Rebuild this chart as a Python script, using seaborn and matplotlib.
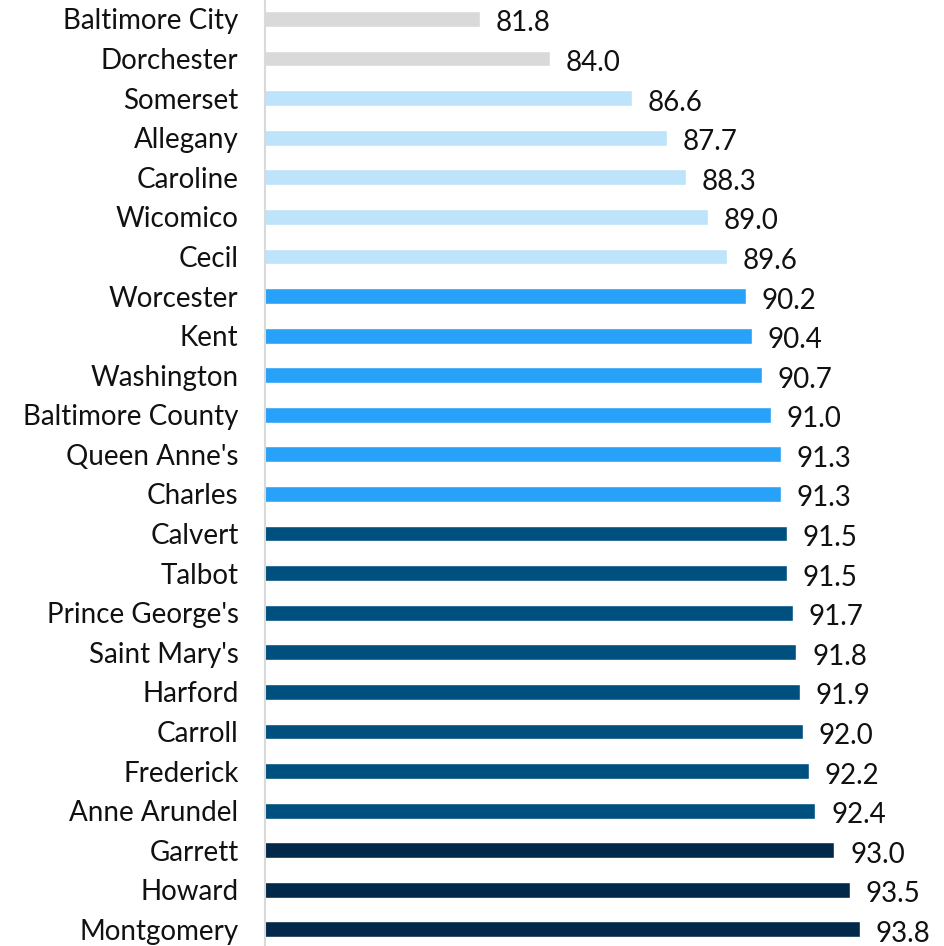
import pandas as pd
import matplotlib.pyplot as plt
import seaborn as sns

# county rates, top to bottom
counties = ["Baltimore City", "Dorchester", "Somerset", "Allegany", "Caroline",
            "Wicomico", "Cecil", "Worcester", "Kent", "Washington",
            "Baltimore County", "Queen Anne's", "Charles", "Calvert", "Talbot",
            "Prince George's", "Saint Mary's", "Harford", "Carroll", "Frederick",
            "Anne Arundel", "Garrett", "Howard", "Montgomery"]
rates = [81.8, 84.0, 86.6, 87.7, 88.3, 89.0, 89.6, 90.2, 90.4, 90.7,
         91.0, 91.3, 91.3, 91.5, 91.5, 91.7, 91.8, 91.9, 92.0, 92.2,
         92.4, 93.0, 93.5, 93.8]
groups = ["low"] * 2 + ["lightblue"] * 5 + ["blue"] * 6 + ["dark"] * 8 + ["navy"] * 3

group_colors = {"low": "#d9d9d9", "lightblue": "#bde4fb", "blue": "#27a2f8",
                "dark": "#00507f", "navy": "#02294a"}

df = pd.DataFrame({"county": counties, "rate": rates, "group": groups})

sns.set_style("white")
plt.rcParams["font.family"] = ["Lato", "DejaVu Sans"]

fig = plt.figure(figsize=(9.45, 9.46), dpi=100)
ax = fig.add_axes([265 / 945, 0, 680 / 945, 1])

sns.barplot(data=df, x="rate", y="county", hue="group", palette=group_colors,
            dodge=False, width=0.4, legend=False, ax=ax, orient="h",
            saturation=1)

ax.set_xlim(75, 96.5)
ax.set_ylim(23.42, -0.48)

# value labels sit a touch below bar centre, like the original
for i, v in enumerate(rates):
    ax.text(v + 0.5, i + 0.05, f"{v:.1f}", va="center_baseline", ha="left",
            fontsize=20, color="#111111")

ax.set_xlabel("")
ax.set_ylabel("")
ax.set_xticks([])
ax.tick_params(axis="y", length=0, pad=19, labelsize=20, labelcolor="#111111")
for s in ["top", "right", "bottom"]:
    ax.spines[s].set_visible(False)
ax.spines["left"].set_color("#d9d9d9")
ax.spines["left"].set_linewidth(1.5)

fig.savefig("out.png", dpi=100)
